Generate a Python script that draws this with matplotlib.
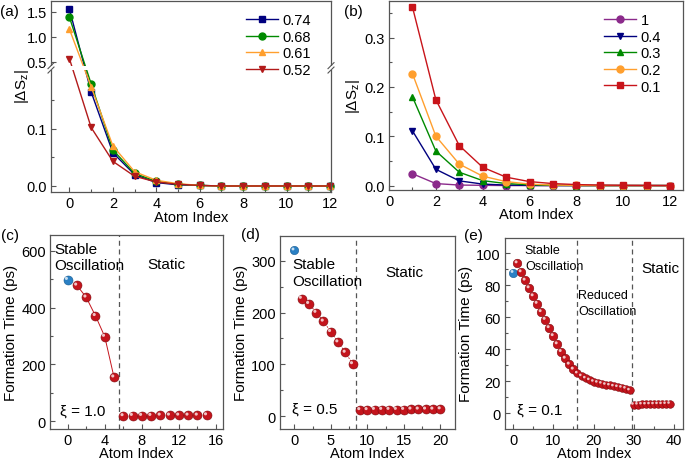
import matplotlib
matplotlib.use("Agg")
import numpy as np
import matplotlib.pyplot as plt
import matplotlib.transforms as mtrans
from matplotlib.ticker import MultipleLocator, FixedLocator, FixedFormatter
from matplotlib.lines import Line2D
from matplotlib.patches import Rectangle

plt.rcParams['font.family'] = ['Liberation Sans', 'DejaVu Sans']
plt.rcParams['font.size'] = 10.5
plt.rcParams['axes.edgecolor'] = '#555555'
plt.rcParams['xtick.color'] = '#555555'
plt.rcParams['ytick.color'] = '#555555'
plt.rcParams['xtick.labelcolor'] = 'black'
plt.rcParams['ytick.labelcolor'] = 'black'
plt.rcParams['mathtext.fontset'] = 'custom'
plt.rcParams['mathtext.rm'] = 'Liberation Sans'
plt.rcParams['mathtext.it'] = 'Liberation Sans:italic'

# ---------------- data ----------------
a_x = list(range(0, 13))
a_labels = ['0.74', '0.68', '0.61', '0.52']
a_074 = [1.55, 0.164, 0.058, 0.020, 0.006, 0.002, 0.001, 0, 0, 0, 0, 0, 0]
a_068 = [1.39, 0.178, 0.063, 0.022, 0.008, 0.003, 0.001, 0, 0, 0, 0, 0, 0]
a_061 = [1.15, 0.173, 0.070, 0.025, 0.010, 0.004, 0.001, 0, 0, 0, 0, 0, 0]
a_052 = [0.56, 0.102, 0.043, 0.017, 0.007, 0.003, 0.001, 0, 0, 0, 0, 0, 0]
a_yticks = [0.0, 0.1, 0.5, 1.0, 1.5]
a_yticklabels = ['0.0', '0.1', '0.5', '1.0', '1.5']

b_x = list(range(1, 13))
b_labels = ['1', '0.4', '0.3', '0.2', '0.1']
b_1 = [0.024, 0.004, 0.001, 0.0005, 0, 0, 0, 0, 0, 0, 0, 0]
b_04 = [0.111, 0.033, 0.0095, 0.003, 0.001, 0.0003, 0, 0, 0, 0, 0, 0]
b_03 = [0.180, 0.070, 0.027, 0.010, 0.004, 0.0015, 0.0005, 0, 0, 0, 0, 0]
b_02 = [0.227, 0.100, 0.0435, 0.019, 0.008, 0.003, 0.001, 0.0004, 0, 0, 0, 0]
b_01 = [0.362, 0.174, 0.081, 0.037, 0.017, 0.008, 0.004, 0.002, 0.001, 0.0005, 0.0002, 0]

c_first_x = [0]
c_first = [498]
c_osc_x = [1, 2, 3, 4, 5]
c_osc = [478, 436, 371, 298, 155]
c_static_x = list(range(6, 16))
c_static = [19, 20, 20, 20, 21, 21, 21, 21, 21, 22]

d_first_x = [0]
d_first = [320]
d_osc_x = list(range(1, 9))
d_osc = [227, 217, 200, 183, 163, 143, 123, 101]
d_static_x = list(range(9, 21))
d_static = [12.5, 12.5, 13, 13, 13, 13, 13, 13.5, 13.5, 13.5, 13.5, 14]

e_first_x = [0]
e_first = [87.8]
e_osc_x = list(range(1, 16))
e_osc = [93.8, 88.2, 83.0, 78.2, 73.2, 68.5, 63.3, 58.5, 53.3, 48.3, 43.2, 38.4, 34.2, 30.5, 27.4]
e_red_x = list(range(16, 30))
e_red = [24.9, 23.2, 21.8, 20.7, 19.7, 19.1, 18.5, 17.8, 17.4, 16.8, 16.4, 16.0, 15.4, 14.3]
e_static_x = list(range(30, 40))
e_static = [5.3, 5.4, 5.5, 5.5, 5.6, 5.6, 5.7, 5.7, 5.8, 5.9]

# ---------------- layout helpers ----------------
W, H = 685, 460
fig = plt.figure(figsize=(W / 100, H / 100), dpi=100)


def add_ax(l, r, t, b):
    return fig.add_axes([l / W, 1 - b / H, (r - l) / W, (b - t) / H])


def fx(x):
    return x / W


def fy(y):
    return 1 - y / H


def style(ax):
    ax.tick_params(which='both', direction='in', top=False, right=False)
    ax.tick_params(which='major', length=3.5, width=0.8, labelsize=10.5, pad=3)
    ax.tick_params(which='minor', length=2, width=0.8)
    for s in ax.spines.values():
        s.set_linewidth(0.9)


def xlab(ax, pad=-0.5):
    ax.set_xlabel('Atom Index', fontsize=10.5, labelpad=pad)


# ---------------- panel (a): broken y axis via piecewise scale ----------------
B0, T0, EPS = 0.206, 0.38, 1e-3
R = 50.0 / 574.0


def a_fwd(y):
    y = np.asarray(y, dtype=float)
    return np.where(y <= B0, y,
                    np.where(y < T0, B0 + (y - B0) * EPS,
                             B0 + (T0 - B0) * EPS + (y - T0) * R))


def a_inv(v):
    v = np.asarray(v, dtype=float)
    v1 = B0 + (T0 - B0) * EPS
    return np.where(v <= B0, v,
                    np.where(v < v1, B0 + (v - B0) / EPS,
                             T0 + (v - v1) / R))


a_series = [a_074, a_068, a_061, a_052]
a_colors = ['#00007F', '#008A00', '#FF9F2E', '#B21A1A']
a_markers = ['s', 'o', '^', 'v']

ax_a = add_ax(51, 331, 2.3, 193.3)
ax_a.set_yscale('function', functions=(a_fwd, a_inv))
for ys, c, m, lab in zip(a_series, a_colors, a_markers, a_labels):
    ax_a.plot(a_x, ys, color=c, marker=m, markersize=5, lw=1.0,
              markeredgecolor=c, clip_on=False, label=lab, zorder=2)
ax_a.set_xlim(-0.85, 12.05)
ax_a.set_ylim(-0.011, 1.71)
ax_a.yaxis.set_major_locator(FixedLocator(a_yticks))
ax_a.yaxis.set_major_formatter(FixedFormatter(a_yticklabels))
ax_a.yaxis.set_minor_locator(FixedLocator([0.05, 0.15]))
ax_a.xaxis.set_major_locator(MultipleLocator(2))
ax_a.xaxis.set_minor_locator(MultipleLocator(1))
style(ax_a)
xlab(ax_a)
# white gap at the break (covers lines and spines)
brk = (a_fwd(B0) - a_fwd(-0.011)) / (a_fwd(1.71) - a_fwd(-0.011))
gap = 2.2 / 191.0
ax_a.add_patch(Rectangle((-0.02, brk - gap), 1.04, 2 * gap, transform=ax_a.transAxes,
                         facecolor='white', edgecolor='none', zorder=3, clip_on=False))
brk_px = 193.3 - brk * 191.0
for xpx in (51, 331):
    for dy in (-2.2, 2.2):
        fig.add_artist(Line2D([fx(xpx - 3), fx(xpx + 3)],
                              [fy(brk_px + dy + 3), fy(brk_px + dy - 3)],
                              color='#555555', lw=0.8))
fig.text(fx(22), fy(87), r'$|\Delta\mathrm{S_z}|$', rotation=90,
         ha='center', va='center', fontsize=11)
ax_a.legend(loc='upper left', bbox_to_anchor=((246 - 51) / 280, 1 - (14 - 2.3) / 191.0),
            frameon=False, fontsize=10.5, handlelength=2.2, handletextpad=0.3,
            labelspacing=0.18, borderpad=0, borderaxespad=0).set_zorder(5)

# ---------------- panel (b) ----------------
ax_b = add_ax(389, 683, 2, 191)
b_series = [b_1, b_04, b_03, b_02, b_01]
b_colors = ['#8B2A8B', '#00007F', '#008A00', '#FF9F2E', '#C8141A']
b_markers = ['o', 'v', '^', 'o', 's']
for ys, c, m, lab in zip(b_series, b_colors, b_markers, b_labels):
    ax_b.plot(b_x, ys, color=c, marker=m, markersize=5, lw=1.0, label=lab)
ax_b.set_xlim(0, 12.55)
ax_b.set_ylim(-0.009, 0.374)
ax_b.xaxis.set_major_locator(MultipleLocator(2))
ax_b.xaxis.set_minor_locator(MultipleLocator(1))
ax_b.yaxis.set_major_locator(MultipleLocator(0.1))
ax_b.yaxis.set_minor_locator(MultipleLocator(0.05))
style(ax_b)
xlab(ax_b)
ax_b.set_ylabel(r'$|\Delta\mathrm{S_z}|$', fontsize=11, labelpad=2)
ax_b.legend(loc='upper left', bbox_to_anchor=((604 - 389) / 294, 1 - (14 - 2) / 189),
            frameon=False, fontsize=10.5, handlelength=2.2, handletextpad=0.3,
            labelspacing=0.18, borderpad=0, borderaxespad=0)

# ---------------- sphere markers ----------------
RED = '#C4141C'
RED_EDGE = '#7E0A0E'
BLUE = '#2A80C4'
BLUE_EDGE = '#145A90'


def spheres(ax, x, y, color, edge, size):
    ax.scatter(x, y, s=size, color=color, edgecolors=edge, linewidths=0.4,
               zorder=4, clip_on=False)
    tr = mtrans.offset_copy(ax.transData, fig=fig, x=-0.9, y=0.9, units='points')
    ax.scatter(x, y, s=size * 0.12, color='white', alpha=0.75,
               edgecolors='none', zorder=5, transform=tr, clip_on=False)


def formation_axes(ax, pad=-0.5):
    style(ax)
    xlab(ax, pad)
    ax.set_ylabel('Formation Time (ps)', fontsize=11, labelpad=2)


# ---------------- panel (c) ----------------
ax_c = add_ax(50, 223, 235.7, 430)
ax_c.plot(c_osc_x, c_osc, color=RED, lw=0.7, zorder=3)
spheres(ax_c, c_first_x, c_first, BLUE, BLUE_EDGE, 42)
spheres(ax_c, c_osc_x, c_osc, RED, RED_EDGE, 42)
spheres(ax_c, c_static_x, c_static, RED, RED_EDGE, 42)
ax_c.axvline(5.5, color='#555555', lw=0.9, ls=(0, (4, 3)))
ax_c.set_xlim(-1.9, 16.75)
ax_c.set_ylim(-27, 656)
ax_c.xaxis.set_major_locator(MultipleLocator(4))
ax_c.xaxis.set_minor_locator(MultipleLocator(2))
ax_c.yaxis.set_major_locator(MultipleLocator(200))
ax_c.yaxis.set_minor_locator(MultipleLocator(100))
formation_axes(ax_c, -1.0)
fig.text(fx(54), fy(250), 'Stable', fontsize=11, va='center', ha='left')
fig.text(fx(54), fy(266), 'Oscillation', fontsize=11, va='center', ha='left')
fig.text(fx(166), fy(265), 'Static', fontsize=11, va='center', ha='center')
fig.text(fx(60), fy(412), 'ξ = 1.0', fontsize=11, va='center', ha='left')

# ---------------- panel (d) ----------------
ax_d = add_ax(280, 455, 236.7, 430)
ax_d.plot(d_osc_x, d_osc, color=RED, lw=0.6, ls=(0, (2, 1.5)), zorder=3)
spheres(ax_d, d_first_x, d_first, BLUE, BLUE_EDGE, 36)
spheres(ax_d, d_osc_x, d_osc, RED, RED_EDGE, 42)
spheres(ax_d, d_static_x, d_static, RED, RED_EDGE, 42)
ax_d.axvline(8.5, color='#555555', lw=0.9, ls=(0, (4, 3)))
ax_d.set_xlim(-1.95, 22)
ax_d.set_ylim(-24.4, 348)
ax_d.xaxis.set_major_locator(MultipleLocator(5))
ax_d.xaxis.set_minor_locator(MultipleLocator(2.5))
ax_d.yaxis.set_major_locator(MultipleLocator(100))
ax_d.yaxis.set_minor_locator(MultipleLocator(50))
formation_axes(ax_d, -1.0)
fig.text(fx(292), fy(265), 'Stable', fontsize=11, va='center', ha='left')
fig.text(fx(292), fy(282), 'Oscillation', fontsize=11, va='center', ha='left')
fig.text(fx(404), fy(273), 'Static', fontsize=11, va='center', ha='center')
fig.text(fx(292), fy(410), 'ξ = 0.5', fontsize=11, va='center', ha='left')

# ---------------- panel (e) ----------------
ax_e = add_ax(505, 683, 239, 429.8)
spheres(ax_e, e_first_x, e_first, BLUE, BLUE_EDGE, 36)
spheres(ax_e, e_osc_x, e_osc, RED, RED_EDGE, 38)
spheres(ax_e, e_red_x, e_red, RED, RED_EDGE, 30)
spheres(ax_e, e_static_x, e_static, RED, RED_EDGE, 30)
ax_e.axvline(15.8, color='#555555', lw=0.9, ls=(0, (4, 3)))
ax_e.axvline(29.5, color='#555555', lw=0.9, ls=(0, (4, 3)))
ax_e.set_xlim(-2.07, 42.3)
ax_e.set_ylim(-9.75, 109.5)
ax_e.xaxis.set_major_locator(MultipleLocator(10))
ax_e.xaxis.set_minor_locator(MultipleLocator(5))
ax_e.yaxis.set_major_locator(MultipleLocator(20))
ax_e.yaxis.set_minor_locator(MultipleLocator(10))
formation_axes(ax_e, -1.0)
fig.text(fx(524), fy(251), 'Stable', fontsize=9, va='center', ha='left')
fig.text(fx(525), fy(267), 'Oscillation', fontsize=9, va='center', ha='left')
fig.text(fx(578), fy(296), 'Reduced', fontsize=9, va='center', ha='left')
fig.text(fx(578), fy(312), 'Oscillation', fontsize=9, va='center', ha='left')
fig.text(fx(660), fy(269), 'Static', fontsize=11, va='center', ha='center')
fig.text(fx(517), fy(411), 'ξ = 0.1', fontsize=11, va='center', ha='left')

# ---------------- panel letters ----------------
for lab, x, y in [('(a)', 0, 12), ('(b)', 344, 12), ('(c)', 1, 236),
                  ('(d)', 241, 235), ('(e)', 464, 236)]:
    fig.text(fx(x), fy(y), lab, fontsize=11, va='center', ha='left')

fig.savefig('out.png', dpi=100)
